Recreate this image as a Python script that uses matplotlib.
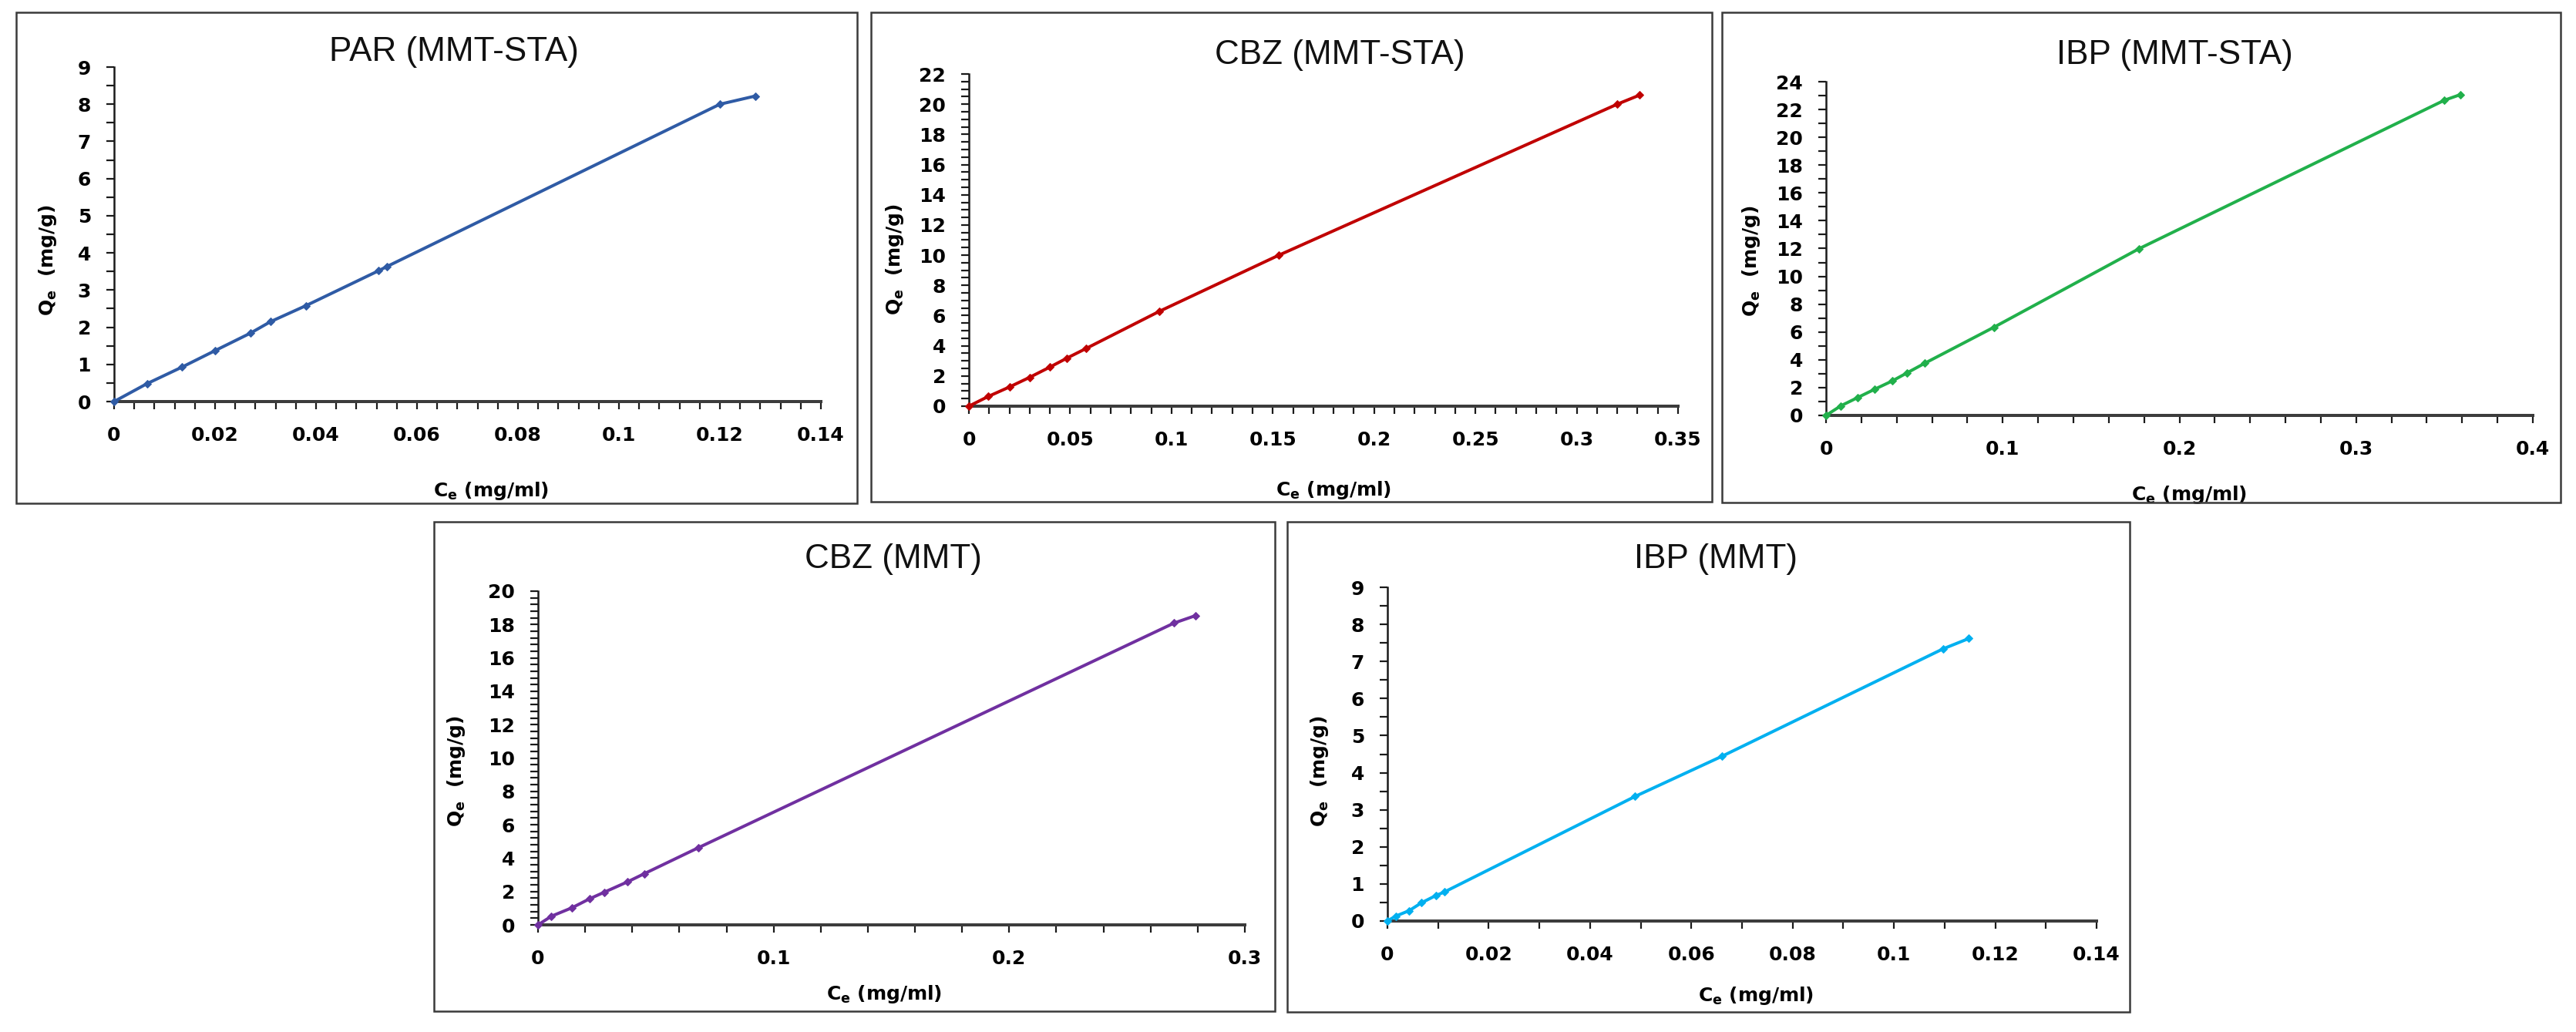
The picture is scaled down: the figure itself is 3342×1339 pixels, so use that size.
import matplotlib
matplotlib.use("Agg")
import matplotlib.pyplot as plt
from matplotlib.patches import Rectangle
from matplotlib.ticker import MultipleLocator, FuncFormatter

# ---------------- data ----------------
titles = ["PAR (MMT-STA)", "CBZ (MMT-STA)", "IBP (MMT-STA)", "CBZ (MMT)", "IBP (MMT)"]
colors = ["#2f5ba5", "#c00000", "#21b04b", "#7030a0", "#00b0f0"]

par_sta_x = [0, 0.0065, 0.0135, 0.020, 0.027, 0.031, 0.038, 0.0524, 0.054, 0.120, 0.127]
par_sta_y = [0, 0.48, 0.93, 1.37, 1.84, 2.15, 2.58, 3.52, 3.63, 8.00, 8.22]

cbz_sta_x = [0, 0.0095, 0.020, 0.030, 0.040, 0.0485, 0.058, 0.094, 0.153, 0.320, 0.331]
cbz_sta_y = [0, 0.64, 1.27, 1.91, 2.59, 3.19, 3.83, 6.28, 10.0, 20.0, 20.6]

ibp_sta_x = [0, 0.0084, 0.018, 0.0275, 0.0375, 0.046, 0.056, 0.095, 0.177, 0.350, 0.359]
ibp_sta_y = [0, 0.69, 1.29, 1.88, 2.48, 3.07, 3.76, 6.34, 11.98, 22.67, 23.07]

cbz_mmt_x = [0, 0.0057, 0.0145, 0.022, 0.028, 0.038, 0.045, 0.068, 0.270, 0.279]
cbz_mmt_y = [0, 0.52, 1.03, 1.57, 1.95, 2.58, 3.06, 4.62, 18.09, 18.53]

ibp_mmt_x = [0, 0.0016, 0.0043, 0.0067, 0.0096, 0.0112, 0.0489, 0.066, 0.1097, 0.1148]
ibp_mmt_y = [0, 0.13, 0.28, 0.49, 0.69, 0.78, 3.36, 4.44, 7.34, 7.62]

xlims = [0.14, 0.35, 0.4, 0.3, 0.14]
ylims = [9, 22, 24, 20, 9]
x_major = [0.02, 0.05, 0.1, 0.1, 0.02]
x_minor = [0.004, 0.01, 0.02, 0.02, 0.01]
y_major = [1, 2, 2, 2, 1]
y_minor = [0.5, 0.5, 1, 0.4, 0.5]

xlabel = r"C$_\mathbf{e}$ (mg/ml)"
ylabel = r"Q$_\mathbf{e}$  (mg/g)"

series_x = [par_sta_x, cbz_sta_x, ibp_sta_x, cbz_mmt_x, ibp_mmt_x]
series_y = [par_sta_y, cbz_sta_y, ibp_sta_y, cbz_mmt_y, ibp_mmt_y]

# ---------------- layout (pixels) ----------------
W, H, DPI = 3342, 1339, 72
axes_px = [(148, 1065, 87, 521), (1257, 2177, 96, 527), (2369, 3286, 106, 539),
           (698, 1615, 767, 1200), (1800, 2720, 762, 1195)]
boxes_px = [(21, 1112, 16, 653), (1130, 2221, 16, 651), (2234, 3322, 16, 652),
            (563, 1654, 677, 1312), (1670, 2763, 677, 1313)]
title_px = [(589, 68), (1738, 71), (2821, 71), (1159, 726), (2226, 725)]
ylab_px = [(62, 337), (1161, 336), (2272, 338), (592, 1000), (1712, 1000)]
xlab_px = [(637, 637), (1730, 636), (2840, 642), (1147, 1290), (2278, 1292)]

plt.rcParams['font.family'] = ['DejaVu Sans']
plt.rcParams['mathtext.fontset'] = 'dejavusans'

fig = plt.figure(figsize=(W / DPI, H / DPI), dpi=DPI)
fig.patch.set_facecolor("white")

fmt = FuncFormatter(lambda v, p: ("%g" % round(v, 6)))

for i in range(5):
    bx0, bx1, by0, by1 = boxes_px[i]
    fig.patches.append(Rectangle((bx0 / W, 1 - by1 / H), (bx1 - bx0) / W, (by1 - by0) / H,
                                 transform=fig.transFigure, fill=False,
                                 edgecolor="#3a3a3a", linewidth=2.5, zorder=0))

    x0, x1, yt, yb = axes_px[i]
    ax = fig.add_axes([x0 / W, 1 - yb / H, (x1 - x0) / W, (yb - yt) / H])
    ax.set_facecolor("none")
    ax.plot(series_x[i], series_y[i], color=colors[i], lw=4, marker="D",
            markersize=7, clip_on=False, zorder=3)
    ax.set_xlim(0, xlims[i])
    ax.set_ylim(0, ylims[i])
    ax.xaxis.set_major_locator(MultipleLocator(x_major[i]))
    ax.xaxis.set_minor_locator(MultipleLocator(x_minor[i]))
    ax.yaxis.set_major_locator(MultipleLocator(y_major[i]))
    ax.yaxis.set_minor_locator(MultipleLocator(y_minor[i]))
    ax.xaxis.set_major_formatter(fmt)
    ax.yaxis.set_major_formatter(fmt)
    for s in ("top", "right"):
        ax.spines[s].set_visible(False)
    ax.spines["bottom"].set_linewidth(4)
    ax.spines["bottom"].set_color("#3c3c3c")
    ax.spines["left"].set_linewidth(2.5)
    ax.spines["left"].set_color("#1a1a1a")
    ax.tick_params(axis="both", which="both", direction="out", length=10, width=2.2,
                   color="#1a1a1a")
    ax.tick_params(axis="x", which="major", pad=22, labelsize=25)
    ax.tick_params(axis="y", which="major", pad=20, labelsize=25)
    for lab in ax.get_xticklabels() + ax.get_yticklabels():
        lab.set_fontweight("bold")

    ax.set_xlabel(xlabel, fontsize=25, fontweight="bold", va="center")
    ax.set_ylabel(ylabel, fontsize=25, fontweight="bold", va="center")
    lx, ly = xlab_px[i]
    ax.xaxis.set_label_coords((lx - x0) / (x1 - x0), (yb - ly) / (yb - yt))
    lx, ly = ylab_px[i]
    ax.yaxis.set_label_coords((lx - x0) / (x1 - x0), (yb - ly) / (yb - yt))

    tx, ty = title_px[i]
    fig.text(tx / W, 1 - ty / H, titles[i], ha="center", va="center",
             fontsize=44, family=["Liberation Sans", "DejaVu Sans"], color="#111111")

fig.savefig("out.png", dpi=DPI, facecolor="white")
